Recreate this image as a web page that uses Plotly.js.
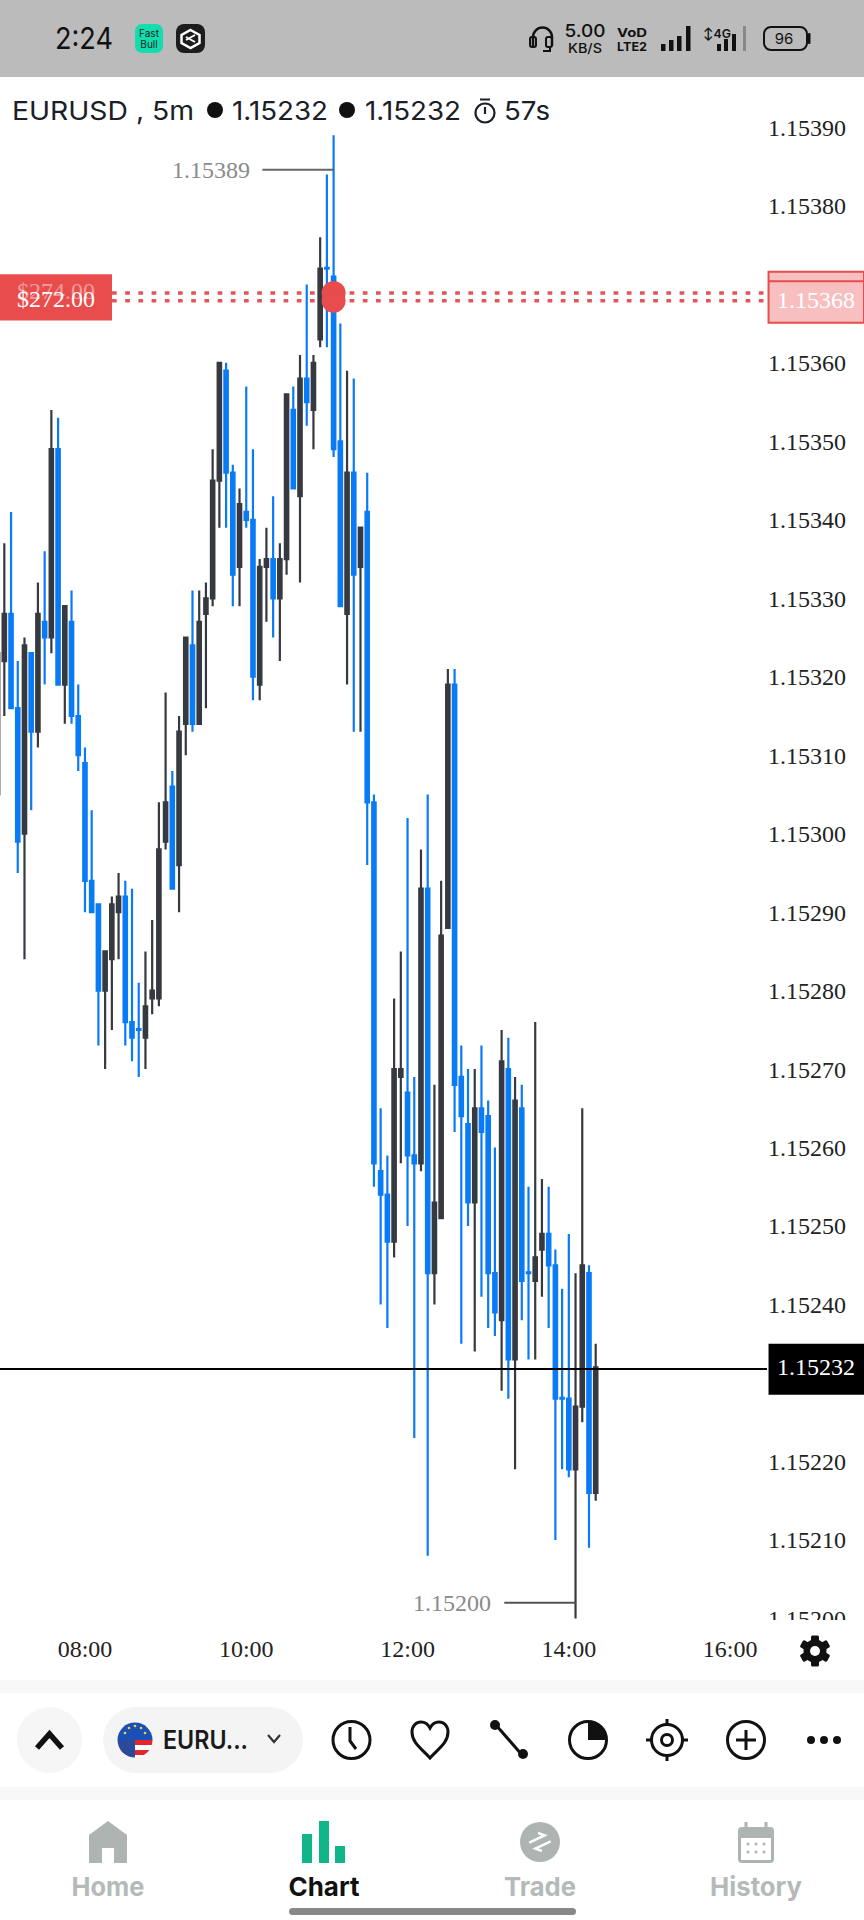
<!DOCTYPE html>
<html><head><meta charset="utf-8">
<script src="https://cdn.plot.ly/plotly-3.0.1.min.js"></script>
<style>
html,body{margin:0;padding:0;background:#fff;width:864px;height:1920px;overflow:hidden}
#chart{position:absolute;left:0;top:0;width:864px;height:1920px}
#chrome{position:absolute;left:0;top:0;pointer-events:none}
#chrome text{font-family:Inter,"Noto Sans",sans-serif}
</style></head><body>
<div id="chart"></div>
<svg id="chrome" width="864" height="1920" viewBox="0 0 864 1920">
  <!-- status bar -->
  <rect x="0" y="0" width="864" height="77" fill="#bbbbbb"/>
  <text x="55" y="49" font-size="30" fill="#111" textLength="58" lengthAdjust="spacingAndGlyphs">2:24</text>
  <rect x="135" y="24" width="28" height="29" rx="7" fill="#13dcae"/>
  <text x="149" y="37" font-size="10" text-anchor="middle" fill="#222">Fast</text>
  <text x="149" y="48" font-size="10" text-anchor="middle" fill="#222">Bull</text>
  <rect x="176" y="24" width="29" height="29" rx="8" fill="#1c1c1c"/>
  <path d="M190.500 30l9 5v8l-9 5-9-5v-8z" fill="none" stroke="#fff" stroke-width="2.500"/>
  <path d="M186 37l9 5M195 35l-9 5" stroke="#fff" stroke-width="2"/>
  <path d="M533 46v-9a9.500 9.500 0 0 1 19 0v9" fill="none" stroke="#111" stroke-width="2.500"/>
  <rect x="530" y="37" width="6" height="10" rx="2" fill="none" stroke="#111" stroke-width="2"/>
  <rect x="546" y="37" width="6" height="10" rx="2" fill="none" stroke="#111" stroke-width="2"/>
  <path d="M550 47v4h-7" fill="none" stroke="#111" stroke-width="2"/>
  <text x="585" y="37" font-size="17" font-weight="500" text-anchor="middle" fill="#111" textLength="41" lengthAdjust="spacingAndGlyphs">5.00</text>
  <text x="585" y="53" font-size="13" font-weight="500" text-anchor="middle" fill="#111" textLength="34" lengthAdjust="spacingAndGlyphs">KB/S</text>
  <text x="617" y="37" font-size="12" font-weight="700" fill="#111" textLength="30" lengthAdjust="spacingAndGlyphs">VoD</text>
  <text x="617" y="51" font-size="12" font-weight="700" fill="#111" textLength="30" lengthAdjust="spacingAndGlyphs">LTE2</text>
  <g fill="#111"><rect x="661" y="44" width="4.500" height="7"/><rect x="669" y="40" width="4.500" height="11"/><rect x="677" y="36" width="4.500" height="15"/><rect x="686" y="26" width="4.500" height="25"/></g>
  <text x="703" y="38" font-size="12" font-weight="600" fill="#111" textLength="28" lengthAdjust="spacingAndGlyphs">↕4G</text>
  <g fill="#111"><rect x="717" y="44" width="4" height="7"/><rect x="724" y="39" width="4" height="12"/><rect x="732" y="34" width="4" height="17"/></g>
  <rect x="743" y="26" width="3" height="25" fill="#888"/>
  <rect x="764" y="27" width="43" height="23" rx="7" fill="none" stroke="#111" stroke-width="2"/>
  <rect x="808" y="33" width="2.500" height="11" rx="1" fill="#111"/>
  <text x="784" y="44" font-size="15" text-anchor="middle" fill="#111">96</text>

  <!-- chart header -->
  <text x="12" y="120" font-size="26" fill="#1b2026" textLength="182" lengthAdjust="spacingAndGlyphs">EURUSD , 5m</text>
  <circle cx="215" cy="110" r="8" fill="#111"/>
  <text x="232" y="120" font-size="26" fill="#1b2026" textLength="96" lengthAdjust="spacingAndGlyphs">1.15232</text>
  <circle cx="347" cy="110" r="8" fill="#111"/>
  <text x="365" y="120" font-size="26" fill="#1b2026" textLength="96" lengthAdjust="spacingAndGlyphs">1.15232</text>
  <circle cx="485" cy="113" r="9.500" fill="none" stroke="#1b2026" stroke-width="2.200"/>
  <path d="M480 99.500h10M485 107v7" stroke="#1b2026" stroke-width="2.200"/>
  <text x="504" y="120" font-size="26" fill="#1b2026" textLength="46" lengthAdjust="spacingAndGlyphs">57s</text>

  <!-- clip of axis label at the bottom of the plot -->
  <rect x="760" y="1620" width="104" height="14" fill="#fff"/>

  <!-- gear -->
  <g transform="translate(815 1651)">
    <g fill="#111"><rect x="-4" y="-15.500" width="8" height="31" rx="1.500"/><rect x="-4" y="-15.500" width="8" height="31" rx="1.500" transform="rotate(60)"/><rect x="-4" y="-15.500" width="8" height="31" rx="1.500" transform="rotate(120)"/></g>
    <circle r="11.500" fill="#111"/>
    <circle r="5" fill="#fff"/>
  </g>

  <!-- separators -->
  <rect x="0" y="1680" width="864" height="13" fill="#f8f8f8"/>
  <rect x="0" y="1787" width="864" height="13" fill="#f8f8f8"/>

  <!-- tool row -->
  <ellipse cx="49.500" cy="1740" rx="32.500" ry="33" fill="#f6f6f6"/>
  <path d="M37 1748l12.500-14 12.500 14" fill="none" stroke="#111" stroke-width="5.500"/>
  <rect x="103" y="1707" width="200" height="66" rx="33" fill="#f4f4f4"/>
  <clipPath id="flag"><circle cx="135" cy="1740" r="17.500"/></clipPath>
  <g clip-path="url(#flag)">
    <rect x="115" y="1720" width="40" height="20" fill="#1a4fb5"/>
    <rect x="115" y="1740" width="40" height="20" fill="#fff"/>
    <rect x="135" y="1740" width="20" height="5" fill="#e0262f"/>
    <rect x="115" y="1750" width="40" height="5" fill="#e0262f"/>
    <rect x="115" y="1740" width="20" height="20" fill="#2a4a9c"/>
    <g fill="#f4d03f"><circle cx="129" cy="1728" r="1.300"/><circle cx="135" cy="1726" r="1.300"/><circle cx="141" cy="1728" r="1.300"/><circle cx="145" cy="1733" r="1.300"/><circle cx="125" cy="1733" r="1.300"/></g>
  </g>
  <text x="163" y="1749" font-size="25" font-weight="600" fill="#1a1a1a" textLength="85" lengthAdjust="spacingAndGlyphs">EURU...</text>
  <path d="M268 1735l6 7 6-7" fill="none" stroke="#333" stroke-width="2.200"/>
  <g fill="none" stroke="#111" stroke-width="3">
    <circle cx="351.500" cy="1740" r="18.500"/><path d="M350 1727v14l6 8"/>
    <path d="M430 1758c-8-9-18-15-18-26 0-6 4-10 9-10 4 0 7 2 9 6 2-4 5-6 9-6 5 0 9 4 9 10 0 11-10 17-18 26z"/>
    <path d="M495 1724l28 32"/>
    <circle cx="588" cy="1740" r="18.500"/>
    <circle cx="667" cy="1740" r="15.500"/><circle cx="667" cy="1740" r="5.500"/><path d="M667 1719v6M667 1755v6M646 1740h6M682 1740h6"/>
    <circle cx="746" cy="1740" r="18.500"/><path d="M746 1730v20M736 1740h20"/>
  </g>
  <circle cx="495" cy="1725" r="5" fill="#111"/><circle cx="523" cy="1754" r="5" fill="#111"/>
  <path d="M588 1740v-18.500a18.500 18.500 0 0 1 18.500 18.500z" fill="#111"/>
  <g fill="#111"><circle cx="811" cy="1740" r="4"/><circle cx="824" cy="1740" r="4"/><circle cx="837" cy="1740" r="4"/></g>

  <!-- bottom nav -->
  <path d="M89 1863v-28l19-14 19 14v28h-13v-15h-12v15z" fill="#aeb4b2"/>
  <rect x="302" y="1834" width="10" height="29" fill="#10b58a"/><rect x="319" y="1821" width="10" height="42" fill="#10b58a"/><rect x="335" y="1846" width="10" height="17" fill="#10b58a"/>
  <circle cx="540" cy="1842" r="20" fill="#aeb4b2"/>
  <g transform="rotate(-25 540 1842)"><path d="M530 1838h17l-5-5M550 1846h-17l5 5" fill="none" stroke="#fff" stroke-width="2.500"/></g>
  <rect x="738" y="1827" width="36" height="36" rx="4" fill="#aeb4b2"/>
  <path d="M746 1822v8M766 1822v8" stroke="#aeb4b2" stroke-width="3"/>
  <rect x="741" y="1838" width="30" height="22" fill="#fff"/>
  <g fill="#aeb4b2"><circle cx="748" cy="1844" r="1.500"/><circle cx="756" cy="1844" r="1.500"/><circle cx="764" cy="1844" r="1.500"/><circle cx="748" cy="1852" r="1.500"/><circle cx="756" cy="1852" r="1.500"/><circle cx="764" cy="1852" r="1.500"/></g>
  <text x="108" y="1896" font-size="26" font-weight="700" text-anchor="middle" fill="#b5bab8" textLength="73" lengthAdjust="spacingAndGlyphs">Home</text>
  <text x="324" y="1896" font-size="26" font-weight="700" text-anchor="middle" fill="#111" textLength="71" lengthAdjust="spacingAndGlyphs">Chart</text>
  <text x="540" y="1896" font-size="26" font-weight="700" text-anchor="middle" fill="#b5bab8" textLength="72" lengthAdjust="spacingAndGlyphs">Trade</text>
  <text x="756" y="1896" font-size="26" font-weight="700" text-anchor="middle" fill="#b5bab8" textLength="92" lengthAdjust="spacingAndGlyphs">History</text>
  <rect x="289" y="1908" width="287" height="7" rx="3.500" fill="#888"/>
</svg>
<script>
const day = '2025-06-30 ';
const times = ['06:55','07:00','07:05','07:10','07:15','07:20','07:25','07:30','07:35','07:40','07:45','07:50','07:55','08:00','08:05','08:10','08:15','08:20','08:25','08:30','08:35','08:40','08:45','08:50','08:55','09:00','09:05','09:10','09:15','09:20','09:25','09:30','09:35','09:40','09:45','09:50','09:55','10:00','10:05','10:10','10:15','10:20','10:25','10:30','10:35','10:40','10:45','10:50','10:55','11:00','11:05','11:10','11:15','11:20','11:25','11:30','11:35','11:40','11:45','11:50','11:55','12:00','12:05','12:10','12:15','12:20','12:25','12:30','12:35','12:40','12:45','12:50','12:55','13:00','13:05','13:10','13:15','13:20','13:25','13:30','13:35','13:40','13:45','13:50','13:55','14:00','14:05','14:10','14:15','14:20'];
const opens = [1.15305,1.15322,1.15328,1.15316,1.15300,1.15323,1.15313,1.15327,1.15325,1.15349,1.15319,1.15327,1.15315,1.15309,1.15294,1.15291,1.15280,1.15284,1.15290,1.15292,1.15276,1.152751,1.15274,1.15279,1.15279,1.15299,1.15306,1.15296,1.15314,1.15324,1.15314,1.15328,1.15330,1.15345,1.15359,1.15346,1.15334,1.15341,1.15340,1.15319,1.15334,1.15335,1.15330,1.15335,1.15354,1.15343,1.15358,1.15354,1.15363,1.153721,1.15371,1.15350,1.15328,1.15346,1.15334,1.15341,1.15304,1.15257,1.15254,1.15248,1.15269,1.15267,1.15259,1.15258,1.15293,1.15244,1.15251,1.15288,1.15319,1.15269,1.15263,1.15253,1.15265,1.15264,1.15244,1.15238,1.15270,1.15233,1.15265,1.152441,1.15243,1.15247,1.15249,1.15245,1.152281,1.15228,1.15219,1.15227,1.15244,1.15216];
const highs = [1.15328,1.15337,1.15341,1.15322,1.15325,1.15323,1.15332,1.15336,1.15354,1.15353,1.15329,1.15331,1.15319,1.15311,1.15303,1.15291,1.15285,1.15292,1.15295,1.15294,1.15293,1.15281,1.15285,1.15289,1.15304,1.15318,1.15308,1.15315,1.15325,1.15331,1.15331,1.15332,1.15349,1.15360,1.15360,1.15347,1.15344,1.15357,1.15349,1.15335,1.15339,1.15343,1.15337,1.15356,1.15357,1.15361,1.15370,1.15361,1.15376,1.15384,1.15389,1.15365,1.15359,1.15358,1.15339,1.15346,1.15305,1.15265,1.15259,1.15279,1.15285,1.15302,1.15269,1.15298,1.15305,1.15268,1.15294,1.15321,1.15321,1.15273,1.15270,1.15270,1.15273,1.15266,1.15260,1.15275,1.15274,1.15269,1.15268,1.15255,1.15276,1.15256,1.15255,1.15247,1.15242,1.15249,1.15244,1.15265,1.15245,1.15235];
const lows = [1.15305,1.15315,1.15316,1.15295,1.15284,1.15303,1.15311,1.15319,1.15323,1.15319,1.15314,1.15314,1.15308,1.15290,1.15290,1.15273,1.15270,1.15275,1.15284,1.15273,1.15271,1.15269,1.15270,1.15277,1.15278,1.15298,1.15293,1.15290,1.15310,1.15313,1.15314,1.15316,1.15329,1.15339,1.15339,1.15329,1.15329,1.15339,1.15317,1.15317,1.15327,1.15325,1.15322,1.15333,1.15344,1.15332,1.15352,1.15349,1.15362,1.15362,1.15348,1.15329,1.15319,1.15313,1.15313,1.15296,1.15255,1.15240,1.15237,1.15246,1.15258,1.15250,1.15223,1.15257,1.15208,1.15240,1.15251,1.15288,1.15262,1.15235,1.15250,1.15234,1.15241,1.15237,1.15236,1.15229,1.15228,1.15219,1.15238,1.15233,1.15233,1.15241,1.15237,1.15210,1.15219,1.15218,1.15200,1.15225,1.15209,1.15215];
const closes = [1.15323,1.15328,1.15316,1.15299,1.15324,1.15313,1.15328,1.15325,1.15349,1.15319,1.15329,1.15315,1.15310,1.15294,1.15290,1.15280,1.15285,1.15291,1.15292,1.15276,1.15274,1.15275,1.15278,1.15280,1.15298,1.15304,1.15293,1.15313,1.15325,1.15314,1.15327,1.15330,1.15345,1.15360,1.15346,1.15333,1.15342,1.15340,1.15320,1.15334,1.15335,1.15330,1.15335,1.15356,1.15344,1.15358,1.15355,1.15360,1.15372,1.15372,1.15349,1.15329,1.15346,1.15333,1.15339,1.15304,1.15258,1.15254,1.15248,1.15270,1.15270,1.15259,1.15258,1.15293,1.15244,1.15253,1.15287,1.15319,1.15268,1.15264,1.15253,1.15265,1.15262,1.15244,1.15239,1.15271,1.15233,1.15266,1.15243,1.15244,1.15246,1.15249,1.15245,1.15228,1.15228,1.15219,1.15227,1.15245,1.15216,1.15232];
const yTicks = [1.15390,1.15380,1.15360,1.15350,1.15340,1.15330,1.15320,1.15310,1.15300,1.15290,1.15280,1.15270,1.15260,1.15250,1.15240,1.15220,1.15210,1.15200];
const currentPrice = 1.15232;
const orderPrices = [1.153689,1.153679];
const BLUE='#0a7bf6', DARK='#363a40', RED='#e84c4c';
const serif='"Liberation Serif",serif';
const xs = times.map(t=>day+t);

const candles = {type:'candlestick',x:xs,open:opens,high:highs,low:lows,close:closes,
  increasing:{line:{color:DARK,width:2.2},fillcolor:DARK},
  decreasing:{line:{color:BLUE,width:2.2},fillcolor:BLUE},
  whiskerwidth:0,hoverinfo:'skip',showlegend:false};
const orderMark = {type:'scatter',mode:'markers',x:[day+'11:05',day+'11:05'],y:orderPrices,
  marker:{size:24,color:RED},hoverinfo:'skip',showlegend:false};

const dotted = p=>({type:'line',xref:'paper',x0:112/767,x1:1,yref:'y',y0:p,y1:p,layer:'below',
  line:{color:'#e0565a',width:3.5,dash:'4.700px,8.500px'}});
const rect = (x0,x1,y0,y1,fill,lc,lw)=>({type:'rect',xref:'paper',yref:'y',x0,x1,y0,y1,fillcolor:fill,line:{color:lc,width:lw},layer:'above'});
const P1 = 1+97/767;
const shapes = [
  dotted(orderPrices[0]),dotted(orderPrices[1]),
  {type:'line',xref:'paper',x0:0,x1:1,yref:'y',y0:1.152318,y1:1.152318,line:{color:'#000',width:2},layer:'above'},
  rect(0,112/767,1.153713,1.153654,RED,RED,0),
  rect(1.002,P1,1.153716,1.153651,'#f7bfc0',RED,2),
  {type:'line',xref:'paper',yref:'y',x0:1.002,x1:P1,y0:1.153704,y1:1.153704,line:{color:RED,width:2},layer:'above'},
  rect(1.002,P1,1.15235,1.152285,'#000','#000',0),
  {type:'line',xref:'x',yref:'y',x0:day+'10:12',x1:day+'11:05',y0:1.153846,y1:1.153846,line:{color:'#666',width:2},layer:'above'},
  {type:'line',xref:'x',yref:'y',x0:day+'13:12',x1:day+'14:05',y0:1.15202,y1:1.15202,line:{color:'#555',width:2},layer:'above'}
];
const ann = (text,xref,x,y,color,anchor)=>({text,xref,yref:'y',x,y,showarrow:false,xanchor:anchor||'center',yanchor:'middle',
  font:{family:serif,size:24,color},borderpad:0,borderwidth:0});
const annotations = [
  ann('1.15389','x',day+'10:03',1.153846,'#8a8a8a','right'),
  ann('1.15200','x',day+'13:02',1.15202,'#8a8a8a','right'),
  ann('$274.00','paper',56/767,1.153691,'rgba(255,255,255,.45)'),
  ann('$272.00','paper',56/767,1.153681,'#fff'),
  ann('1.15368','paper',816/767,1.15368,'#fff'),
  ann('1.15232','paper',816/767,currentPrice,'#fff')
];

const layout = {width:864,height:1920,margin:{l:0,r:97,t:78,b:300,pad:0},
  paper_bgcolor:'rgba(0,0,0,0)',plot_bgcolor:'rgba(0,0,0,0)',showlegend:false,boxgap:0.49,boxgroupgap:0,
  xaxis:{type:'date',range:[day+'06:56:47',day+'16:27:27'],rangeslider:{visible:false},showgrid:false,zeroline:false,showline:false,
    ticks:'',tickformat:'%H:%M',dtick:7200000,tick0:day+'08:00',ticklabelstandoff:12,tickfont:{family:serif,size:24,color:'#222'}},
  yaxis:{side:'right',range:[1.151998,1.153963],showgrid:false,zeroline:false,showline:false,ticks:'',
    tickmode:'array',tickvals:yTicks,tickformat:'.5f',tickfont:{family:serif,size:24,color:'#222'}},
  shapes,annotations};
Plotly.newPlot('chart',[candles,orderMark],layout,{displayModeBar:false,staticPlot:true});
</script>
</body></html>
